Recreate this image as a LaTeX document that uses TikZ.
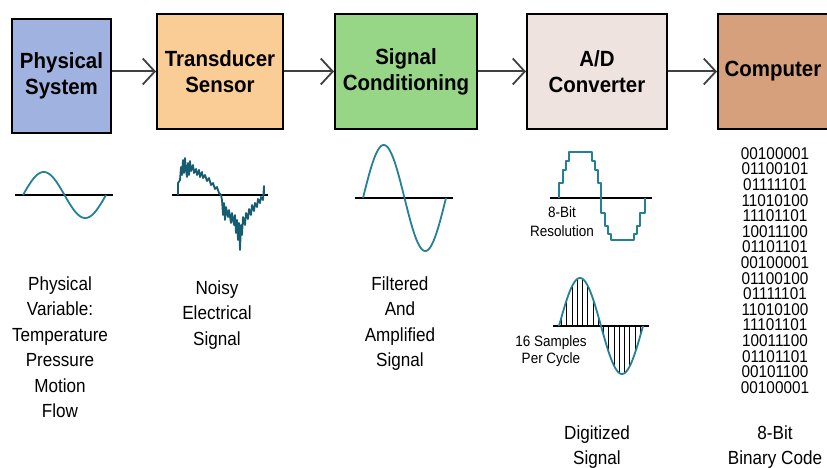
\documentclass[tikz,border=0pt]{standalone}
\usepackage{fontspec}
\setmainfont{Liberation Sans}
\newfontfamily\estreita[FakeStretch=0.9]{Liberation Sans}
\newfontfamily\largabold[FakeStretch=0.93]{Liberation Sans}
\usetikzlibrary{arrows.meta}
\definecolor{azulfis}{RGB}{160,178,224}
\definecolor{laranja}{RGB}{250,204,150}
\definecolor{verde}{RGB}{150,214,134}
\definecolor{bege}{RGB}{238,227,223}
\definecolor{marrom}{RGB}{214,160,124}
\definecolor{azulonda}{RGB}{36,128,150}
\definecolor{azulruido}{RGB}{22,92,115}
\tikzset{every picture/.style={line width=0.75pt}}

\begin{document}
\begin{tikzpicture}[x=1pt, y=-1pt,
    bloco/.style={rectangle, draw=black, line width=2pt, minimum height=115pt, align=center, inner sep=0pt, font={\largabold\bfseries\fontsize{22}{26}\selectfont}},
    fluxo/.style={draw=black!75, line width=2pt, -{Straight Barb[length=12pt, width=26pt, line width=1.8pt]}},
    onda/.style={draw=azulonda, line width=1.8pt, line join=round},
    eixo/.style={draw=black, line width=2pt},
    amostra/.style={draw=black, line width=1.2pt},
    rotulo/.style={align=center, inner sep=0pt, anchor=north, font={\estreita\fontsize{19}{25.5}\selectfont}},
    legenda/.style={align=center, inner sep=0pt, anchor=north, font={\estreita\fontsize{15}{19}\selectfont}}]
        \useasboundingbox (0,0) rectangle (827,468);
        \fill[white] (0,0) rectangle (827,468);
        % blocos da cadeia de medida
        \node[bloco, fill=azulfis, minimum width=99pt, minimum height=114pt] (fis) at (61.5, 76) {Physical\\System};
        \node[bloco, fill=laranja, minimum width=126pt] (trans) at (220, 71.5) {Transducer\\Sensor};
        \node[bloco, fill=verde, minimum width=142pt] (cond) at (406, 71.5) {Signal\\Conditioning};
        \node[bloco, fill=bege, minimum width=140pt] (ad) at (597, 71.5) {A/D\\Converter};
        \node[bloco, fill=marrom, minimum width=110pt] (pc) at (773, 71.5) {Computer};
        \draw[fluxo] (fis.east |- trans.west) -- (trans.west);
        \draw[fluxo] (trans) -- (cond);
        \draw[fluxo] (cond) -- (ad);
        \draw[fluxo] (ad) -- (pc);
        % sinal fisico
        \draw[eixo] (15,195) -- (113,195);
        \draw[onda] plot[domain=23:106, samples=60] (\x, {195-23*sin((\x-23)/83*360)});
        % sinal com ruido
        \draw[eixo] (172,195) -- (268,195);
        \draw[onda, draw=azulruido, line width=1.8pt] (178,195) -- (178,183) -- (180,180) -- (181,167) -- (182,175) -- (183,160) -- (184,173) -- (185,158) -- (186,170) -- (187,177) -- (188,163) -- (189,175) -- (190,161) -- (191,171) -- (193,165) -- (194,173) -- (196,169) -- (197,175) -- (199,170) -- (200,177) -- (202,172) -- (203,178) -- (205,175) -- (207,181) -- (209,178) -- (211,185) -- (213,183) -- (215,189) -- (217,187) -- (219,193) -- (221,195) -- (222,200) -- (223,215) -- (224,203) -- (225,220) -- (226,207) -- (228,217) -- (229,210) -- (231,223) -- (232,213) -- (234,225) -- (235,215) -- (236,233) -- (237,220) -- (238,240) -- (239,223) -- (240,250) -- (241,225) -- (242,235) -- (243,217) -- (245,225) -- (246,213) -- (248,219) -- (249,209) -- (251,215) -- (252,205) -- (254,211) -- (255,203) -- (257,207) -- (258,199) -- (260,203) -- (261,197) -- (263,200) -- (264,186) -- (264,195);
        % sinal filtrado e amplificado
        \draw[eixo] (355,198) -- (453,198);
        \draw[onda] plot[domain=363:446, samples=80] (\x, {198-53*sin((\x-363)/83*360)});
        % sinal quantizado (8 bits)
        \draw[eixo] (550,198) -- (652,198);
        \draw[onda] (559,198) |- (563,183) |- (566,170) |- (569,161) |- (592,152) |- (595,161) |- (598,170) |- (601,183)
            |- (605,213) |- (608,226) |- (611,234) |- (634,240) |- (637,234) |- (640,226) |- (643,213) -| (645,198);
        % sinal amostrado (16 amostras)
        \draw[eixo] (553,326) -- (649,326);
        \foreach \i in {0,...,15}
            \draw[amostra] ({559+(\i+0.5)*5.25}, 326) -- ++(0, {-48*sin((\i+0.5)*22.5)});
        \draw[onda] plot[domain=559:643, samples=70] (\x, {326-48*sin((\x-559)/84*360)});
        % codigo binario
        \node[rotulo, font={\estreita\fontsize{17}{15.6}\selectfont}] (codigo) at (775,147) {00100001\\01100101\\01111101\\11010100\\11101101\\10011100\\01101101\\00100001\\01100100\\01111101\\11010100\\11101101\\10011100\\01101101\\00101100\\00100001};
        % rotulos
        \node[rotulo] (varfis) at (60,276) {Physical\\Variable:\\Temperature\\Pressure\\Motion\\Flow};
        \node[rotulo] (ruido) at (217,280) {Noisy\\Electrical\\Signal};
        \node[rotulo] (filtro) at (400,276) {Filtered\\And\\Amplified\\Signal};
        \node[legenda] (resol) at (562,206) {8-Bit\\Resolution};
        \node[legenda, font={\estreita\fontsize{15}{17.5}\selectfont}] (amostras) at (551,335) {16 Samples\\Per Cycle};
        \node[rotulo] (digital) at (597,425) {Digitized\\Signal};
        \node[rotulo] (binario) at (775,425) {8-Bit\\Binary Code};
    \end{tikzpicture}
\end{document}
